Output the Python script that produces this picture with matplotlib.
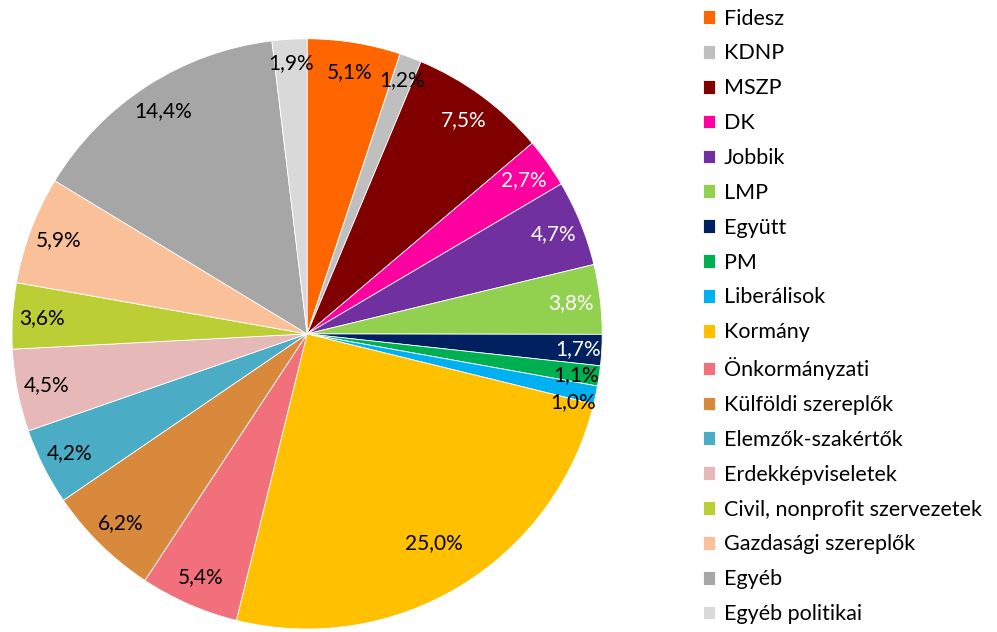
import matplotlib.pyplot as plt
import numpy as np

labels = ['Fidesz', 'KDNP', 'MSZP', 'DK', 'Jobbik', 'LMP', 'Együtt', 'PM',
          'Liberálisok', 'Kormány', 'Önkormányzati', 'Külföldi szereplők',
          'Elemzők-szakértők', 'Erdekképviseletek', 'Civil, nonprofit szervezetek',
          'Gazdasági szereplők', 'Egyéb', 'Egyéb politikai']
values = [5.1, 1.2, 7.5, 2.7, 4.7, 3.8, 1.7, 1.1, 1.0, 25.0, 5.4, 6.2, 4.2, 4.5,
          3.6, 5.9, 14.4, 1.9]
colors = ['#FF6600', '#BFBFBF', '#800000', '#FF00A0', '#7030A0', '#92D050',
          '#002060', '#00B050', '#00B0F0', '#FFC000', '#F1707B', '#D8893B',
          '#4BACC6', '#E6B9B8', '#BBCE35', '#FAC09A', '#A6A6A6', '#D9D9D9']
white_text = ['MSZP', 'DK', 'Jobbik', 'LMP', 'Együtt']

plt.rcParams['font.family'] = ['Lato', 'DejaVu Sans']

fig = plt.figure(figsize=(9.97, 6.32), dpi=100)
ax = fig.add_axes([0.012, 0.0047, 0.592, 0.934])

wedges, _ = ax.pie(values, colors=colors, startangle=90, counterclock=False,
                   wedgeprops=dict(edgecolor='white', linewidth=0.6))
ax.set_xlim(-1, 1)
ax.set_ylim(-1, 1)

# labels near the outer edge, like Excel's "inside end"
prev = None
for w, lab, v in zip(wedges, labels, values):
    ang = np.deg2rad((w.theta1 + w.theta2) / 2)
    d = 0.83 if v > 20 else (0.92 if v < 2 else 0.9)
    x, y = d * np.cos(ang), d * np.sin(ang)
    # push crowded small labels apart (right side, going down)
    if prev is not None and abs(prev[1] - y) < 0.085 and abs(prev[0] - x) < 0.1:
        y = prev[1] - 0.09
    prev = (x, y)
    c = 'white' if lab in white_text else 'black'
    ax.text(x, y, f'{v:.1f}%'.replace('.', ','),
            ha='center', va='center', fontsize=15, color=c)

fig.legend(wedges, labels, loc='upper left', bbox_to_anchor=(0.696, 1.0),
           frameon=False, fontsize=15.5, handlelength=0.6, handleheight=0.6,
           handletextpad=0.4, labelspacing=0.69, borderaxespad=0.0)

fig.savefig('out.png', dpi=100)
